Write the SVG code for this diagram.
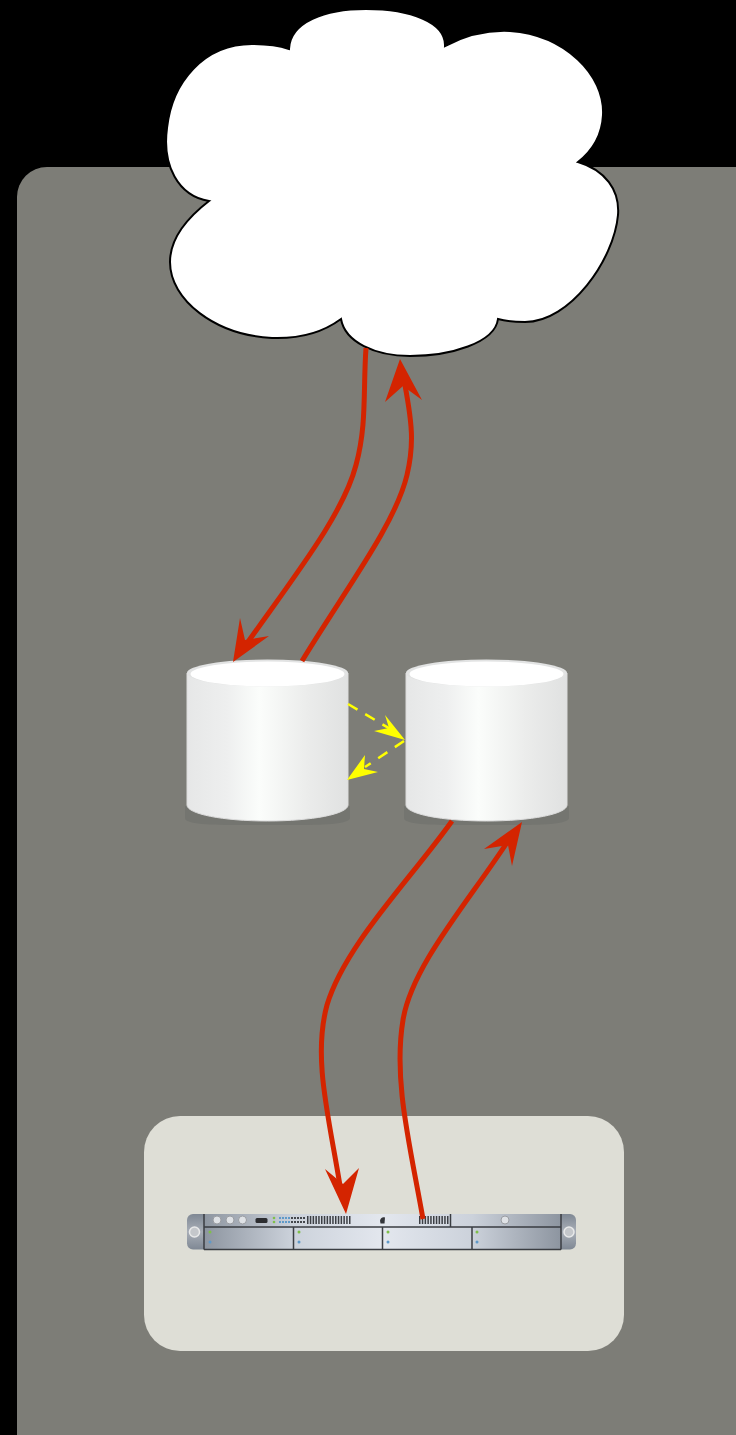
<svg xmlns="http://www.w3.org/2000/svg" xmlns:xlink="http://www.w3.org/1999/xlink" width="736" height="1435" viewBox="0 0 736 1435">
<style>
.red{fill:none;stroke:#d42400;stroke-width:5}
.redh{fill:#d42400}
.yel{fill:none;stroke:#ffff00;stroke-width:2.5;stroke-dasharray:11 9}
.yelh{fill:#ffff00}
.bay{fill:url(#bay);stroke:#3a3d42;stroke-width:1.5}
.knob{fill:#dfe2e6;stroke:#9a9da2;stroke-width:1}
</style>
<defs>
<linearGradient id="cyl" x1="0" x2="1" y1="0" y2="0">
<stop offset="0" stop-color="#e6e7e7"/><stop offset=".25" stop-color="#eeefef"/><stop offset=".45" stop-color="#fbfdfb"/><stop offset=".75" stop-color="#ebeceb"/><stop offset="1" stop-color="#e0e1e1"/>
</linearGradient>
<linearGradient id="rack" x1="0" x2="1" y1="0" y2="0">
<stop offset="0" stop-color="#8d95a0"/><stop offset=".25" stop-color="#ccd2db"/><stop offset=".5" stop-color="#e3e7ee"/><stop offset=".75" stop-color="#ccd2db"/><stop offset="1" stop-color="#8d95a0"/>
</linearGradient>
<linearGradient id="ear" x1="0" x2="0" y1="0" y2="1">
<stop offset="0" stop-color="#7f8894"/><stop offset=".5" stop-color="#a8aeb7"/><stop offset="1" stop-color="#7f8894"/>
</linearGradient>
<g id="db">
<path d="M-2 806V818C-2 826 38 825 79 825S162 826 163 818V806Z" fill="#747570"/>
<path d="M0 673V805C0 814 36 821 80.500 821S161 814 161 805V673Z" fill="url(#cyl)" stroke="#dcdcdc" stroke-width="1"/>
<ellipse cx="80.500" cy="673" rx="80.500" ry="13.500" fill="#e2e3e3"/>
<ellipse cx="80.500" cy="674" rx="77" ry="12.500" fill="#ffffff"/>
</g>
</defs>
<rect width="736" height="1435" fill="#000000"/>
<rect id="zone" x="17" y="167" width="760" height="1300" rx="30" fill="#7d7d77"/>
<rect id="rack-zone" x="144" y="1116" width="480" height="235" rx="36" fill="#deded6"/>
<g id="cloud">
<path d="M209 201C178 196 162 165 167 128C172 82 204 44 252 44C268 44 280 46 289 49C290 22 325 9 366 9C410 9 446 22 445 46C470 33 490 30 510 31C565 35 605 75 603 115C602 135 592 151 578 162C605 170 620 190 618 215C614 260 570 322 525 322C515 322 505 321 498 319C495 343 450 356 410 356C375 356 345 342 341 319C322 333 300 339 272 338C215 335 170 300 170 262C170 238 187 218 209 201Z" fill="#ffffff" stroke="#000000" stroke-width="2"/>
</g>
<g id="db-left"><use xlink:href="#db" href="#db" x="187"/></g>
<g id="db-right"><use xlink:href="#db" href="#db" x="406"/></g>
<g id="server">
<rect x="187" y="1214" width="389" height="35.500" rx="6" fill="url(#ear)"/>
<rect x="204" y="1214" width="357" height="35.500" fill="url(#rack)"/>
<path d="M204 1214V1249.500M561 1214V1249.500M204 1227H561M204 1249.500H561M293.500 1227V1249.500M382.500 1227V1249.500M472 1227V1249.500M450.500 1214V1227" fill="none" stroke="#3a3d42" stroke-width="1.500"/>
<circle cx="194.500" cy="1232" r="5" fill="#c4c7cb" stroke="#e8e9ea" stroke-width="1.500"/>
<circle cx="569" cy="1232" r="5" fill="#c4c7cb" stroke="#e8e9ea" stroke-width="1.500"/>
<circle class="knob" cx="217" cy="1220" r="4"/><circle class="knob" cx="230" cy="1220" r="4"/><circle class="knob" cx="242.500" cy="1220" r="4"/><circle class="knob" cx="505" cy="1220" r="4"/>
<rect x="255.500" y="1218" width="12" height="5" rx="1.500" fill="#2c2d30"/>
<circle cx="274" cy="1218" r="1.300" fill="#7fc04a"/><circle cx="274" cy="1222" r="1.300" fill="#7fc04a"/>
<path d="M279 1218H291M279 1222H291" stroke="#5f9ac9" stroke-width="2" stroke-dasharray="2 1"/>
<path d="M291 1218H306M291 1222H306" stroke="#44474c" stroke-width="2" stroke-dasharray="2 1"/>
<path d="M307 1220H351M419 1220H449" stroke="#3c3f44" stroke-width="8" stroke-dasharray="1.500 1.300"/>
<path d="M380 1220.500C381 1217 383 1217 385 1217.500L384.500 1223.500H380.500Z" fill="#33353a"/>
<circle cx="210" cy="1232" r="1.500" fill="#7fc04a" opacity="0"/>
<g fill="#7fc04a"><circle cx="210" cy="1232" r="1.500"/><circle cx="299" cy="1232" r="1.500"/><circle cx="388" cy="1232" r="1.500"/><circle cx="477" cy="1232" r="1.500"/></g>
<g fill="#5f9ac9"><circle cx="210" cy="1242" r="1.500"/><circle cx="299" cy="1242" r="1.500"/><circle cx="388" cy="1242" r="1.500"/><circle cx="477" cy="1242" r="1.500"/></g>
</g>
<g id="connectors">
<path class="red" d="M366 348C363 390 367 425 356 465C343 515 295 575 243 649"/>
<polygon class="redh" points="233,662 240,618 245,640 269,636"/>
<path class="red" d="M302 661C345 590 395 525 407 475C414 445 413 425 403 375"/>
<polygon class="redh" points="400,359 422,400 403,386 385,402"/>
<path class="red" d="M452 821C410 880 345 945 327 1005C312 1060 330 1120 342 1198"/>
<polygon class="redh" points="346,1214 325,1169 343,1184 359,1168"/>
<path class="red" d="M423 1219C410 1145 393 1080 403 1020C412 965 470 900 510 838"/>
<polygon class="redh" points="522,822 512,866 508,845 484,849"/>
<path class="yel" d="M348 704L392 730"/>
<polygon class="yelh" points="405,740 374,731 389,728 385,715"/>
<path class="yel" d="M404 741L365 767"/>
<polygon class="yelh" points="347,780 365,755 364,769 378,772"/>
</g>
</svg>
